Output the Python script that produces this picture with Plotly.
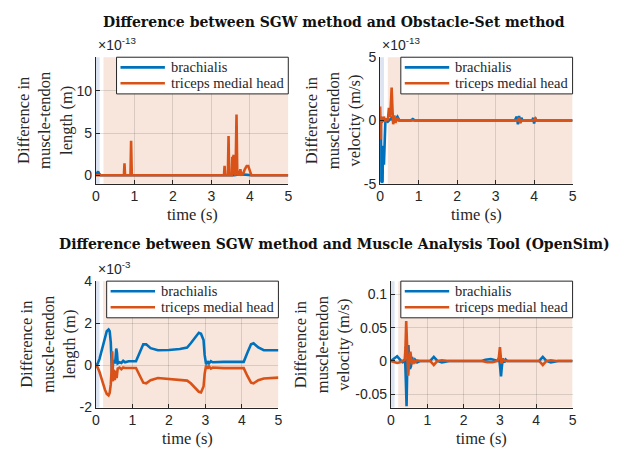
import plotly.graph_objects as go

W, H = 621, 459

# ---------------- data ----------------
series_names = ["brachialis", "triceps medial head"]
series_colors = ["#0072BD", "#D95319"]
time_ticks = [0, 1, 2, 3, 4, 5]

# SGW vs Obstacle-Set: muscle-tendon length difference (x1e-13 m)
os_len_brach_t = [0, 0.03, 0.06, 0.09, 0.12, 3.60, 3.70, 3.80, 3.95, 4.05, 5.0]
os_len_brach_v = [0, 0.30, 0.45, 0.15, 0, 0, 0.10, 0.10, 0.05, 0, 0]
os_len_tri_t = [0, 0.73, 0.745, 0.76, 0.90, 0.917, 0.935, 3.33, 3.345, 3.36, 3.43,
                3.448, 3.465, 3.53, 3.545, 3.565, 3.585, 3.60, 3.63, 3.655, 3.675,
                3.70, 3.73, 3.755, 3.78, 3.83, 3.87, 3.92, 3.96, 4.00, 4.04, 5.0]
os_len_tri_v = [0, 0, 1.4, 0, 0, 4.1, 0, 0, 1.1, 0, 0,
                4.65, 0, 0, 2.2, 2.1, 2.4, 0.2, 0, 7.2, 0.3,
                0, 0.2, 0.7, 0.1, 0.2, 0.7, 1.1, 1.1, 0.6, 0, 0]

# SGW vs Obstacle-Set: muscle-tendon velocity difference (x1e-13 m/s)
os_vel_brach_t = [0, 0.01, 0.02, 0.03, 0.05, 0.065, 0.075, 0.09, 0.10, 0.11, 0.12,
                  0.14, 0.20, 0.25, 0.30, 0.35, 0.40, 0.45, 0.50, 0.80, 0.85, 0.90,
                  3.50, 3.55, 3.58, 3.61, 3.64, 3.67, 3.70, 3.95, 3.98, 4.00, 4.03,
                  4.06, 5.0]
os_vel_brach_v = [0, 0.3, -1.0, -4.8, -4.9, -4.8, -2.0, -2.2, -3.5, -2.0, -0.3,
                  0.1, -0.1, 0.05, 0.2, -0.1, 0.15, 0.3, 0, 0, 0.1, 0,
                  0, 0.3, -0.3, 0.35, -0.2, 0.2, 0, 0, 0.2, -0.25, 0.2,
                  0, 0]
os_vel_tri_t = [0, 0.01, 0.02, 0.03, 0.045, 0.06, 0.08, 0.10, 0.13, 0.16, 0.20,
                0.23, 0.25, 0.27, 0.30, 0.32, 0.34, 0.37, 0.40, 0.44, 0.48,
                3.58, 3.61, 3.64, 3.67, 4.00, 4.03, 4.06, 5.0]
os_vel_tri_v = [1.1, -0.2, -1.5, 0.3, -0.2, 0.2, -0.1, 0.3, -0.1, 0.15, 0,
                1.0, 0.3, 0.6, 2.6, 1.0, -0.3, 0.4, -0.2, 0.2, 0,
                0, 0.2, -0.2, 0, 0, 0.15, 0, 0]

# SGW vs Muscle Analysis Tool: muscle-tendon length difference (x1e-3 m)
mat_len_brach_t = [0, 0.05, 0.10, 0.15, 0.20, 0.25, 0.30, 0.35, 0.38, 0.41, 0.43,
                   0.45, 0.47, 0.50, 0.53, 0.56, 0.58, 0.60, 0.65, 0.70, 0.75,
                   0.80, 0.90, 1.10, 1.20, 1.30, 1.38, 1.50, 1.70, 2.00, 2.30,
                   2.50, 2.60, 2.72, 2.82, 2.88, 2.95, 2.98, 3.02, 3.06, 3.10,
                   3.15, 3.20, 3.50, 4.05, 4.15, 4.25, 4.32, 4.45, 4.60, 5.0]
mat_len_brach_v = [0, 0.08, 0.30, 0.65, 1.05, 1.40, 1.62, 1.70, 1.62, 1.10, 0.30,
                   -0.75, 0.10, 0.25, 0.10, 0.80, 0.60, 0.10, 0.15, 0.12, 0.22,
                   0.15, 0.20, 0.20, 0.60, 1.00, 1.00, 0.82, 0.72, 0.73, 0.78,
                   0.85, 1.05, 1.35, 1.55, 1.50, 1.20, 0.50, 0.05, 0.20, 0.10,
                   0.20, 0.15, 0.17, 0.17, 0.60, 1.00, 1.05, 0.85, 0.72, 0.72]
mat_len_tri_t = [0, 0.05, 0.10, 0.15, 0.20, 0.25, 0.30, 0.35, 0.38, 0.41, 0.43,
                 0.45, 0.47, 0.49, 0.52, 0.55, 0.57, 0.60, 0.65, 0.70, 0.75,
                 0.80, 1.10, 1.20, 1.30, 1.38, 1.50, 1.70, 2.00, 2.30, 2.50,
                 2.60, 2.72, 2.82, 2.88, 2.95, 2.98, 3.02, 3.06, 3.10, 3.15,
                 3.20, 3.50, 4.05, 4.15, 4.25, 4.32, 4.45, 4.60, 5.0]
mat_len_tri_v = [0, -0.10, -0.30, -0.60, -0.90, -1.15, -1.35, -1.42, -1.30, -0.90, -0.30,
                 0.67, -0.75, -0.20, -0.70, -0.25, -0.60, -0.15, -0.10, -0.18, -0.10,
                 -0.12, -0.12, -0.50, -0.82, -0.85, -0.70, -0.60, -0.64, -0.66, -0.72,
                 -0.85, -1.05, -1.25, -1.28, -1.00, -0.40, 0.0, -0.15, -0.05, -0.15,
                 -0.10, -0.13, -0.13, -0.50, -0.82, -0.85, -0.70, -0.62, -0.58]

# SGW vs Muscle Analysis Tool: muscle-tendon velocity difference (m/s)
mat_vel_brach_t = [0, 0.05, 0.10, 0.17, 0.22, 0.27, 0.32, 0.37, 0.39, 0.41, 0.43,
                   0.445, 0.46, 0.48, 0.50, 0.52, 0.55, 0.58, 0.62, 0.66, 0.72,
                   0.80, 1.08, 1.18, 1.28, 1.40, 1.50, 1.60, 2.50, 2.60, 2.75,
                   2.85, 2.95, 2.98, 3.01, 3.03, 3.05, 3.08, 3.12, 3.16, 3.20,
                   4.08, 4.18, 4.28, 4.40, 4.50, 4.60, 5.0]
mat_vel_brach_v = [0, 0.002, 0.005, 0.007, 0.004, 0.0, -0.002, -0.001, 0.003, -0.03, -0.068,
                   -0.02, 0.02, 0.024, 0.0, -0.012, -0.008, 0.006, -0.002, 0.002, -0.002,
                   0, 0, 0.006, 0, -0.002, -0.001, 0, 0, 0.002, 0.003,
                   0.001, 0.0, 0.005, -0.008, -0.023, -0.01, 0.004, -0.002, 0.002, 0,
                   0, 0.006, 0, -0.002, -0.001, 0, 0]
mat_vel_tri_t = [0, 0.10, 0.17, 0.25, 0.32, 0.38, 0.40, 0.42, 0.44, 0.46, 0.475,
                 0.49, 0.51, 0.535, 0.56, 0.59, 0.62, 0.66, 0.72, 0.80, 1.08,
                 1.18, 1.28, 1.40, 1.60, 2.50, 2.65, 2.80, 2.93, 2.97, 3.00,
                 3.02, 3.04, 3.08, 3.15, 4.08, 4.18, 4.28, 4.40, 4.55, 5.0]
mat_vel_tri_v = [0, -0.002, -0.003, -0.002, 0.0, 0.002, 0.02, 0.06, 0.03, -0.015, -0.022,
                 -0.01, 0.008, 0.014, 0.003, -0.005, 0.002, -0.002, 0.001, 0, 0,
                 -0.006, 0, 0.001, 0, 0, -0.002, -0.002, 0.0, 0.005, 0.021,
                 0.01, -0.004, 0.002, 0, 0, -0.006, 0, 0.001, 0, 0]

# shaded phases along the time axis
phase_spans = [(0.0, 0.1), (0.2, 5.0)]
phase_colors = ["#DCE4F1", "#F8E6DC"]

# ---------------- layout helpers ----------------
SANS = "Liberation Sans, Arial, sans-serif"
SERIF = "Liberation Serif, Times New Roman, serif"
TITLE_SERIF = "DejaVu Serif, serif"
INK = "#262626"


def fx(p):
    return p / W


def fy(p):
    return 1 - p / H


panels = [
    dict(box=(93, 51, 288, 182), yrange=[-1, 14], yticks=[0, 5, 10],
         ytext=["0", "5", "10"], exp="-13",
         ylabel="Difference in<br>muscle-tendon<br>length (m)", ylab_x=42,
         series=[(os_len_brach_t, os_len_brach_v), (os_len_tri_t, os_len_tri_v)]),
    dict(box=(381, 51, 576, 182), yrange=[-5, 5], yticks=[-5, 0, 5],
         ytext=["-5", "0", "5"], exp="-13",
         ylabel="Difference in<br>muscle-tendon<br>velocity (m/s)", ylab_x=334,
         series=[(os_vel_brach_t, os_vel_brach_v), (os_vel_tri_t, os_vel_tri_v)]),
    dict(box=(93, 283, 278, 414), yrange=[-2, 4], yticks=[-2, 0, 2, 4],
         ytext=["-2", "0", "2", "4"], exp="-3",
         ylabel="Difference in<br>muscle-tendon<br>length (m)", ylab_x=45,
         series=[(mat_len_brach_t, mat_len_brach_v), (mat_len_tri_t, mat_len_tri_v)]),
    dict(box=(392, 283, 576, 414), yrange=[-0.07, 0.12], yticks=[-0.05, 0, 0.05, 0.1],
         ytext=["-0.05", "0", "0.05", "0.1"], exp=None,
         ylabel="Difference in<br>muscle-tendon<br>velocity (m/s)", ylab_x=323,
         series=[(mat_vel_brach_t, mat_vel_brach_v), (mat_vel_tri_t, mat_vel_tri_v)]),
]

fig = go.Figure()
shapes = []
annotations = []
layout_axes = {}

for i, p in enumerate(panels, start=1):
    x0, y0, x1, y1 = p["box"]
    xa = "x" if i == 1 else f"x{i}"
    ya = "y" if i == 1 else f"y{i}"
    xkey = "xaxis" if i == 1 else f"xaxis{i}"
    ykey = "yaxis" if i == 1 else f"yaxis{i}"

    common = dict(showline=True, linecolor=INK, linewidth=1, ticks="inside",
                  ticklen=4, tickwidth=1, tickcolor=INK, showgrid=True,
                  gridcolor="rgba(0,0,0,0.12)", gridwidth=1, zeroline=False,
                  tickfont=dict(family=SANS, size=14, color=INK), fixedrange=True)
    layout_axes[xkey] = dict(common, domain=[fx(x0), fx(x1)], range=[0, 5],
                             tickvals=time_ticks, anchor=ya)
    layout_axes[ykey] = dict(common, domain=[fy(y1), fy(y0)], range=p["yrange"],
                             tickvals=p["yticks"], ticktext=p["ytext"], anchor=xa)

    for (tt, vv), name, col in zip(p["series"], series_names, series_colors):
        fig.add_trace(go.Scatter(x=tt, y=vv, mode="lines", name=name,
                                 line=dict(color=col, width=2.6),
                                 xaxis=xa, yaxis=ya, showlegend=False,
                                 hoverinfo="skip"))

    # shaded phases
    for (s0, s1), col in zip(phase_spans, phase_colors):
        shapes.append(dict(type="rect", xref=xa, yref=f"{ya} domain", x0=s0, x1=s1,
                           y0=0, y1=1, fillcolor=col, line=dict(width=0),
                           layer="below"))

    # axis labels
    annotations.append(dict(text="time (s)", xref="paper", yref="paper",
                            x=fx((x0 + x1) / 2), y=fy(y1 + 32), xanchor="center",
                            yanchor="middle", showarrow=False,
                            font=dict(family=SERIF, size=16.5, color=INK)))
    annotations.append(dict(text=p["ylabel"], xref="paper", yref="paper",
                            x=fx(p["ylab_x"]), y=fy((y0 + y1) / 2), textangle=-90,
                            xanchor="center", yanchor="middle", showarrow=False,
                            font=dict(family=SERIF, size=16.5, color=INK)))
    if p["exp"]:
        annotations.append(dict(text=f"\u00d710<sup>{p['exp']}</sup>", xref="paper",
                                yref="paper", x=fx(x0), y=fy(y0 - 2),
                                xanchor="left", yanchor="bottom", showarrow=False,
                                font=dict(family=SANS, size=14, color=INK)))

    # legend box
    lw, lh = 174, 38
    lx0, ly0 = x1 - lw, y0
    shapes.append(dict(type="rect", xref="paper", yref="paper", x0=fx(lx0),
                       x1=fx(x1), y0=fy(ly0 + lh), y1=fy(ly0), fillcolor="white",
                       line=dict(color=INK, width=1), layer="above"))
    for k, (name, col) in enumerate(zip(series_names, series_colors)):
        ry = ly0 + 10.5 + k * 16.5
        shapes.append(dict(type="line", xref="paper", yref="paper", x0=fx(lx0 + 4),
                           x1=fx(lx0 + 49), y0=fy(ry), y1=fy(ry),
                           line=dict(color=col, width=2.6), layer="above"))
        annotations.append(dict(text=name, xref="paper", yref="paper",
                                x=fx(lx0 + 53), y=fy(ry), xanchor="left",
                                yanchor="middle", showarrow=False,
                                font=dict(family=SERIF, size=14.5, color=INK)))

# group titles
for txt, ypix in [("Difference between SGW method and Obstacle-Set method", 14),
                  ("Difference between SGW method and Muscle Analysis Tool (OpenSim)", 245)]:
    annotations.append(dict(text=f"<b>{txt}</b>", xref="paper", yref="paper",
                            x=fx(334.5), y=fy(ypix), xanchor="center",
                            yanchor="middle", showarrow=False,
                            font=dict(family=TITLE_SERIF, size=14, color="#111111")))

fig.update_layout(width=W, height=H, margin=dict(l=0, r=0, t=0, b=0),
                  paper_bgcolor="white", plot_bgcolor="white", showlegend=False,
                  shapes=shapes, annotations=annotations, **layout_axes)

fig.write_html("out.html", config=dict(displayModeBar=False))
